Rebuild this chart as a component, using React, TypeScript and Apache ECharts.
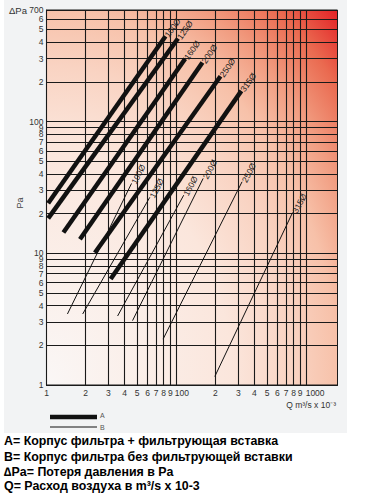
import React, { useEffect, useRef } from 'react';
import * as echarts from 'echarts';

// Axis tick values (Q in m³/s x 10⁻³ on a log scale, Δp in Pa on a log scale)
const xTicks = [10, 20, 30, 40, 50, 60, 70, 80, 90, 100, 200, 300, 400, 500, 600, 700, 800, 900, 1000];
const yTicks = [1, 2, 3, 4, 5, 6, 7, 8, 9, 10, 20, 30, 40, 50, 60, 70, 80, 90, 100, 200, 300, 400, 500, 600, 700];

const diameters = ['100Ø', '125Ø', '160Ø', '200Ø', '250Ø', '315Ø'];

// A = housing + filter insert: [start, end] points as [Q, Δp]
const a100 = [[10.3, 24.0], [82.6, 444]];
const a125 = [[10.3, 18.4], [103, 427]];
const a160 = [[13.5, 14.4], [117, 300]];
const a200 = [[18.1, 12.8], [159, 281]];
const a250 = [[23.6, 10.1], [219, 221]];
const a315 = [[31.2, 6.37], [317, 171]];

// B = housing without filter insert
const b100 = [[14.5, 3.46], [45.2, 33.9]];
const b125 = [[19.0, 3.46], [62.5, 26.6]];
const b160 = [[35.3, 3.34], [114, 27.6]];
const b200 = [[46.0, 3.08], [161, 37.0]];
const b250 = [[79.1, 2.23], [321, 34.9]];
const b315 = [[198, 1.16], [787, 20.4]];

const seriesAData = [a100, a125, a160, a200, a250, a315];
const seriesBData = [b100, b125, b160, b200, b250, b315];

const notes = [
  'A= Корпус фильтра + фильтрующая вставка',
  'B= Корпус фильтра без фильтрующей вставки',
  '∆Pa= Потеря давления в Pa',
  'Q= Расход воздуха в m³/s x 10-3',
];

const FONT = '"Liberation Sans", Arial, Helvetica, sans-serif';

function leading(v: number): number {
  const p = Math.pow(10, Math.floor(Math.log10(v) + 1e-9));
  return Math.round(v / p);
}

function makeSeries(data: number[][], name: string, thick: boolean) {
  return {
    type: 'line',
    name: thick ? 'A' : 'B',
    data: [
      data[0],
      {
        value: data[1],
        label: {
          show: true,
          formatter: name,
          position: 'right',
          distance: thick ? 1 : 2,
          rotate: thick ? 55 : 62,
          align: 'left',
          verticalAlign: 'middle',
          fontSize: 8.5,
          fontFamily: FONT,
          color: '#222',
        },
      },
    ],
    symbol: 'circle',
    symbolSize: 0,
    showSymbol: true,
    itemStyle: { color: '#111' },
    lineStyle: { color: '#111', width: thick ? 4.5 : 1, cap: 'butt' },
    silent: true,
    z: thick ? 4 : 3,
  };
}

export default function App() {
  const ref = useRef<HTMLDivElement>(null);
  useEffect(() => {
    const chart = echarts.init(ref.current!, undefined, { renderer: 'svg' });
    const axisLabelBase = { fontSize: 8.5, color: '#333', fontFamily: FONT };
    // the top value is listed first so that the automatic min/max overlap check
    // does not drop either the "ΔPa 700" or the "6" label (they sit close together)
    const yLabelValues = [yTicks[yTicks.length - 1], ...yTicks.slice(0, -1)];
    const option: any = {
      animation: false,
      backgroundColor: '#ffffff',
      grid: {
        left: 46.5,
        right: 37.5,
        top: 10,
        bottom: 113,
        show: true,
        borderColor: '#1a1a1a',
        borderWidth: 1,
        outerBoundsMode: 'none',
        backgroundColor: {
          type: 'radial',
          x: 0,
          y: 1,
          r: 1.42,
          colorStops: [
            { offset: 0, color: '#faf7f6' },
            { offset: 0.45, color: '#fbe6dc' },
            { offset: 0.6, color: '#f9d3c2' },
            { offset: 0.707, color: '#f7c1a9' },
            { offset: 0.8, color: '#f19c80' },
            { offset: 0.9, color: '#ea6a50' },
            { offset: 1, color: '#e31e24' },
          ],
        },
      },
      xAxis: {
        type: 'log',
        logBase: 10,
        min: 10,
        max: 1745,
        axisLine: { show: true, lineStyle: { color: '#1a1a1a', width: 1 } },
        axisTick: { show: false, customValues: xTicks },
        splitLine: { show: true, lineStyle: { color: '#1a1a1a', width: 1.1 } },
        minorTick: { show: false },
        minorSplitLine: { show: false },
        axisLabel: {
          ...axisLabelBase,
          customValues: xTicks,
          margin: 3,
          showMinLabel: true,
          showMaxLabel: true,
          formatter: (v: number) => {
            const r = Math.round(v);
            if (r === 100) return '{h|100}';
            if (r === 1000) return '{k|1000}';
            return String(leading(r));
          },
          rich: {
            h: { ...axisLabelBase, padding: [0, 0, 0, 11] },
            k: { ...axisLabelBase, padding: [0, 0, 0, 18] },
          },
        },
      },
      yAxis: {
        type: 'log',
        logBase: 10,
        min: 1,
        max: 703,
        axisLine: { show: true, lineStyle: { color: '#1a1a1a', width: 1 } },
        axisTick: { show: false, customValues: yTicks },
        splitLine: { show: true, lineStyle: { color: '#1a1a1a', width: 1.1 } },
        minorTick: { show: false },
        minorSplitLine: { show: false },
        axisLabel: {
          ...axisLabelBase,
          lineHeight: 7,
          customValues: yLabelValues,
          margin: 3,
          formatter: (v: number) => {
            const r = Math.round(v);
            if (r === 700) return '{d|ΔPa} {n|700}';
            if (r === 1 || r === 10 || r === 100) return String(r);
            return String(leading(r));
          },
          rich: {
            d: { ...axisLabelBase, fontSize: 9.5, lineHeight: 7 },
            n: { ...axisLabelBase, lineHeight: 7 },
          },
        },
      },
      graphic: [
        {
          type: 'rect',
          shape: { x: 4, y: 0, width: 343, height: 433 },
          style: { fill: '#f2f3f4' },
          z: -100,
          silent: true,
        },
        {
          type: 'text',
          x: 20,
          y: 203,
          rotation: Math.PI / 2,
          style: { text: 'Pa', fontSize: 9, fontFamily: FONT, fill: '#444', align: 'center', verticalAlign: 'middle' },
          silent: true,
        },
        {
          type: 'text',
          x: 336,
          y: 405,
          style: { text: 'Q m³/s x 10⁻³', fontSize: 8.5, fontFamily: FONT, fill: '#333', align: 'right', verticalAlign: 'middle' },
          silent: true,
        },
        {
          type: 'line',
          shape: { x1: 50, y1: 417, x2: 97, y2: 417 },
          style: { stroke: '#111', lineWidth: 4.5 },
          silent: true,
        },
        {
          type: 'text',
          x: 100,
          y: 415.5,
          style: { text: 'A', fontSize: 7, fontFamily: FONT, fill: '#555', align: 'left', verticalAlign: 'middle' },
          silent: true,
        },
        {
          type: 'line',
          shape: { x1: 50, y1: 427, x2: 97, y2: 427 },
          style: { stroke: '#111', lineWidth: 1 },
          silent: true,
        },
        {
          type: 'text',
          x: 100,
          y: 427.5,
          style: { text: 'B', fontSize: 7, fontFamily: FONT, fill: '#555', align: 'left', verticalAlign: 'middle' },
          silent: true,
        },
        ...notes.map((t, i) => ({
          type: 'text',
          x: 4,
          y: [441, 456.5, 471.5, 486][i],
          style: { text: t, fontSize: 12.4, fontWeight: 'bold', fontFamily: FONT, fill: '#000', align: 'left', verticalAlign: 'middle' },
          silent: true,
        })),
      ],
      series: [
        ...seriesAData.map((d, i) => makeSeries(d, diameters[i], true)),
        ...seriesBData.map((d, i) => makeSeries(d, diameters[i], false)),
      ],
    };
    chart.setOption(option);
    return () => chart.dispose();
  }, []);
  return <div ref={ref} style={{ position: 'absolute', left: 0, top: 0, width: 375, height: 498 }} />;
}
